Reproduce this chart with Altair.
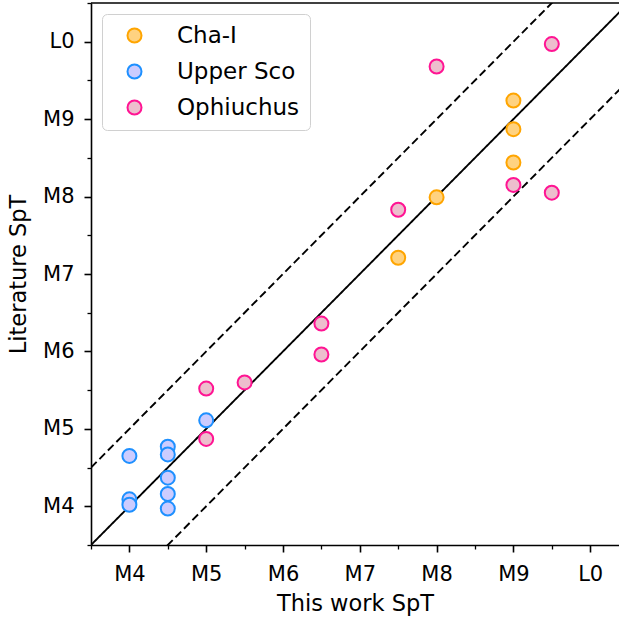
import altair as alt
import pandas as pd

# ---- data ----
groups = ["Cha-I", "Upper Sco", "Ophiuchus"]
edge_colors = ["#FFA500", "#1E90FF", "#FF1493"]
face_colors = ["#FFD280", "#CCCCFF", "#EDBECD"]

cha_x = [9, 9, 9, 8, 7.5]
cha_y = [9.24, 8.87, 8.44, 7.99, 7.21]

usco_x = [5, 4, 4.5, 4.5, 4.5, 4.5, 4.5, 4, 4]
usco_y = [5.11, 4.65, 4.77, 4.67, 4.37, 4.16, 3.97, 4.09, 4.02]

oph_x = [9.5, 8, 9, 9.5, 7.5, 6.5, 6.5, 5, 5.5, 5]
oph_y = [9.97, 9.68, 8.15, 8.05, 7.83, 6.36, 5.96, 5.52, 5.60, 4.87]

tick_values = [4, 5, 6, 7, 8, 9, 10]
tick_labels = ["M4", "M5", "M6", "M7", "M8", "M9", "L0"]
minor_values = [3.5, 4.5, 5.5, 6.5, 7.5, 8.5, 9.5, 10.5]

axis_range = [3.5, 10.5]
line_offsets = [0, 1, -1]
line_styles = ["solid", "dashed", "dashed"]

# ---- layout ----
PX_PER_UNIT = 76.8
W = 528
H = 542
x_domain = [axis_range[0], axis_range[0] + W / PX_PER_UNIT]
y_domain = axis_range

FONT = "DejaVu Sans"

pts_rows = []
for g, xs, ys in [(groups[0], cha_x, cha_y), (groups[1], usco_x, usco_y), (groups[2], oph_x, oph_y)]:
    for a, b in zip(xs, ys):
        pts_rows.append({"x": a, "y": b, "group": g})
pts_df = pd.DataFrame(pts_rows)

line_rows = []
for o, s in zip(line_offsets, line_styles):
    for xv in axis_range:
        line_rows.append({"lx": xv, "ly": xv + o, "offset": o, "style": s})
lines_df = pd.DataFrame(line_rows)

label_expr = ""
for v, lab in zip(tick_values, tick_labels):
    label_expr += f"datum.value == {v} ? '{lab}' : "
label_expr += "''"

xs_scale = alt.Scale(domain=x_domain, nice=False, zero=False)
ys_scale = alt.Scale(domain=y_domain, nice=False, zero=False)

common_axis = dict(
    grid=False,
    tickColor="black",
    tickWidth=1.6,
    domainColor="black",
    domainWidth=1.6,
    labelFont=FONT,
    labelFontSize=21,
    labelColor="black",
    titleFont=FONT,
    titleFontSize=22.5,
    titleFontWeight="normal",
    titleColor="black",
)

major_x = alt.Axis(
    orient="bottom", values=tick_values, labelExpr=label_expr, title="This work SpT",
    tickSize=7, labelPadding=11, titleY=65, titleBaseline="alphabetic", labelFlush=False,
    **common_axis,
)
major_y = alt.Axis(
    orient="left", values=tick_values, labelExpr=label_expr, title="Literature SpT",
    tickSize=7, labelPadding=10, titleX=-66, titleBaseline="alphabetic", labelFlush=False,
    **common_axis,
)
minor_x = alt.Axis(
    orient="bottom", values=minor_values, labels=False, domain=False, title=None,
    tickSize=4, grid=False, tickColor="black", tickWidth=1.3,
)
minor_y = alt.Axis(
    orient="left", values=minor_values, labels=False, domain=False, title=None,
    tickSize=4, grid=False, tickColor="black", tickWidth=1.3,
)

lines = alt.Chart(lines_df).mark_line(clip=True, color="black", strokeWidth=1.9).encode(
    x=alt.X("lx:Q", scale=xs_scale, axis=minor_x),
    y=alt.Y("ly:Q", scale=ys_scale, axis=minor_y),
    detail="offset:N",
    strokeDash=alt.StrokeDash(
        "style:N",
        scale=alt.Scale(domain=["solid", "dashed"], range=[[1, 0], [8, 4]]),
        legend=None,
    ),
)

legend_kw = dict(
    title=None,
    orient="none",
    legendX=11,
    legendY=11,
    labelFont=FONT,
    labelFontSize=23,
    labelColor="black",
    symbolSize=196,
    symbolStrokeWidth=2,
    symbolType="circle",
    labelOffset=31,
    symbolOffset=11,
    rowPadding=12,
    padding=10,
    strokeColor="#d0d0d0",
    fillColor="white",
    cornerRadius=5,
)

points = alt.Chart(pts_df).mark_point(
    shape="circle", filled=True, size=196, fillOpacity=1, strokeOpacity=1, strokeWidth=2
).encode(
    x=alt.X("x:Q", scale=xs_scale, axis=major_x),
    y=alt.Y("y:Q", scale=ys_scale, axis=major_y),
    fill=alt.Fill("group:N", scale=alt.Scale(domain=groups, range=face_colors), legend=alt.Legend(**legend_kw)),
    stroke=alt.Stroke("group:N", scale=alt.Scale(domain=groups, range=edge_colors), legend=alt.Legend(**legend_kw)),
)

top_spine = alt.Chart(pd.DataFrame({"k": [0]})).mark_rule(color="black", strokeWidth=1.6).encode(
    x=alt.value(0), x2=alt.value(W), y=alt.value(0)
)

chart = (
    alt.layer(lines, points, top_spine)
    .resolve_axis(x="independent", y="independent")
    .properties(
        width=W,
        height=H,
        autosize=alt.AutoSizeParams(type="none"),
        padding={"left": 91, "top": 3, "right": 0, "bottom": 76},
        background="white",
    )
    .configure_view(stroke=None)
)

chart.save("out.html", embed_options={"renderer": "svg", "actions": False})
